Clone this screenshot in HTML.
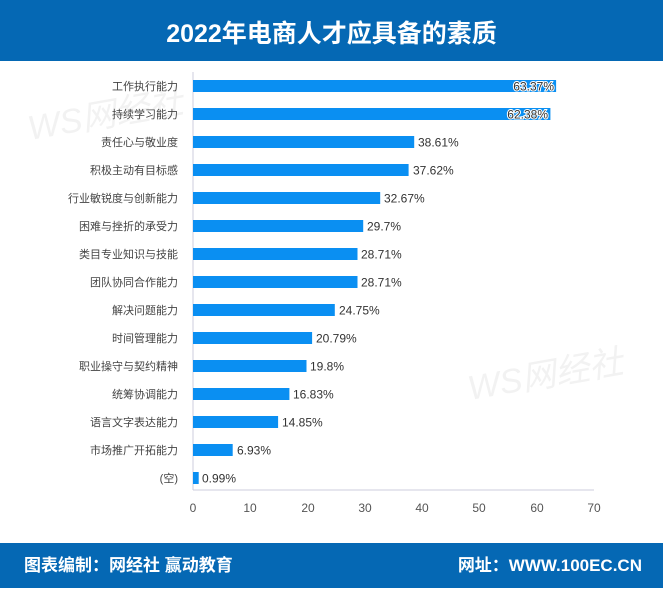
<!DOCTYPE html>
<html><head><meta charset="utf-8"><style>
body{margin:0;width:663px;height:588px;background:#fff;overflow:hidden;}
</style></head><body>
<svg width="663" height="588" xmlns="http://www.w3.org/2000/svg" font-family="Liberation Sans, Noto Sans CJK SC, sans-serif">
<rect x="0" y="0" width="663" height="61" fill="#0568b4"/>
<text x="331.5" y="42" text-anchor="middle" font-size="25" font-weight="bold" fill="#fff">2022年电商人才应具备的素质</text>
<rect x="0" y="543" width="663" height="45" fill="#0568b4"/>
<text x="24" y="571" font-size="17" font-weight="bold" fill="#fff">图表编制：网经社 赢动教育</text>
<text x="642" y="571" text-anchor="end" font-size="17" font-weight="bold" fill="#fff">网址：WWW.100EC.CN</text>
<text x="30" y="140" font-size="34" fill="#f2f2f2" transform="rotate(-10 30 140)" font-style="italic">WS网经社</text>
<text x="470" y="400" font-size="34" fill="#f2f2f2" transform="rotate(-10 470 400)" font-style="italic">WS网经社</text>
<line x1="193" y1="72" x2="193" y2="490" stroke="#ccd" stroke-width="1"/>
<line x1="193" y1="490" x2="594" y2="490" stroke="#ccd" stroke-width="1"/>
<g font-size="12" fill="#555" text-anchor="middle">
<text x="193" y="512">0</text><text x="250" y="512">10</text><text x="308" y="512">20</text><text x="365" y="512">30</text><text x="422" y="512">40</text><text x="479" y="512">50</text><text x="537" y="512">60</text><text x="594" y="512">70</text>
</g>
<g font-size="11" fill="#444" text-anchor="end">
<text x="178" y="90">工作执行能力</text>
<text x="178" y="118">持续学习能力</text>
<text x="178" y="146">责任心与敬业度</text>
<text x="178" y="174">积极主动有目标感</text>
<text x="178" y="202">行业敏锐度与创新能力</text>
<text x="178" y="230">困难与挫折的承受力</text>
<text x="178" y="258">类目专业知识与技能</text>
<text x="178" y="286">团队协同合作能力</text>
<text x="178" y="314">解决问题能力</text>
<text x="178" y="342">时间管理能力</text>
<text x="178" y="370">职业操守与契约精神</text>
<text x="178" y="398">统筹协调能力</text>
<text x="178" y="426">语言文字表达能力</text>
<text x="178" y="454">市场推广开拓能力</text>
<text x="178" y="482">(空)</text>
</g>
<g fill="#0a8ff2">
<rect x="193" y="80" width="363.1" height="12"/>
<rect x="193" y="108" width="357.4" height="12"/>
<rect x="193" y="136" width="221.2" height="12"/>
<rect x="193" y="164" width="215.6" height="12"/>
<rect x="193" y="192" width="187.2" height="12"/>
<rect x="193" y="220" width="170.2" height="12"/>
<rect x="193" y="248" width="164.5" height="12"/>
<rect x="193" y="276" width="164.5" height="12"/>
<rect x="193" y="304" width="141.8" height="12"/>
<rect x="193" y="332" width="119.1" height="12"/>
<rect x="193" y="360" width="113.5" height="12"/>
<rect x="193" y="388" width="96.4" height="12"/>
<rect x="193" y="416" width="85.1" height="12"/>
<rect x="193" y="444" width="39.7" height="12"/>
<rect x="193" y="472" width="5.7" height="12"/>
</g>
<g font-size="12" fill="#333">
<text x="554" y="90.5" text-anchor="end" stroke="#fff" stroke-width="2" paint-order="stroke">63.37%</text>
<text x="548" y="118.5" text-anchor="end" stroke="#fff" stroke-width="2" paint-order="stroke">62.38%</text>
<text x="418" y="146.5">38.61%</text>
<text x="413" y="174.5">37.62%</text>
<text x="384" y="202.5">32.67%</text>
<text x="367" y="230.5">29.7%</text>
<text x="361" y="258.5">28.71%</text>
<text x="361" y="286.5">28.71%</text>
<text x="339" y="314.5">24.75%</text>
<text x="316" y="342.5">20.79%</text>
<text x="310" y="370.5">19.8%</text>
<text x="293" y="398.5">16.83%</text>
<text x="282" y="426.5">14.85%</text>
<text x="237" y="454.5">6.93%</text>
<text x="202" y="482.5">0.99%</text>
</g>
</svg>
</body></html>
